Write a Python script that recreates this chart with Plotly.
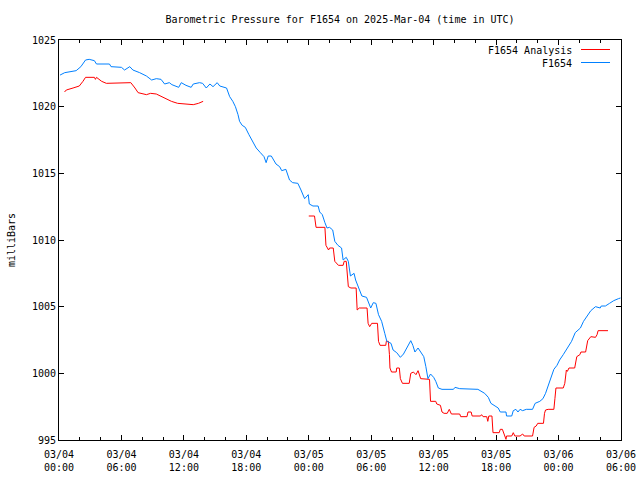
import pandas as pd
import plotly.graph_objects as go

# ---- data (hours after 2025-03-04 00:00 UTC, pressure in mb) ----
base_time = "2025-03-04 00:00"

station_hours = [0.1, 0.55, 1.65, 2.1, 2.55, 2.9, 3.4, 3.6, 4.85, 5.0, 6.0, 6.3, 6.8, 7.1, 7.75,
                 8.4, 8.9, 9.35, 9.8, 10.15, 10.6, 10.85, 11.5, 11.75, 12.2, 12.7, 12.9, 13.5,
                 13.8, 14.15, 14.5, 14.8, 15.2, 15.45, 16.1, 16.4, 16.7, 16.95, 17.2, 17.35,
                 17.6, 17.9, 18.25, 18.6, 18.95, 19.35, 19.7, 19.9, 20.1, 20.4, 20.85, 21.2,
                 21.4, 21.8, 22.15, 22.45, 22.95, 23.25, 23.6, 23.95, 24.05, 24.4, 24.9, 25.05,
                 25.3, 25.55, 25.75, 26.0, 26.3, 26.5, 26.8, 27.15, 27.3, 27.6, 27.8, 28.0,
                 28.35, 28.5, 28.8, 29.1, 29.55, 29.95, 30.2, 30.45, 30.7, 31.0, 31.3, 31.5,
                 31.9, 32.1, 32.45, 32.8, 33.1, 33.45, 33.8, 34.0, 34.2, 34.5, 34.75, 35.05,
                 35.25, 35.45, 35.7, 36.0, 36.2, 36.45, 36.8, 37.9, 38.05, 38.5, 40.25, 40.5,
                 40.9, 41.25, 41.5, 41.9, 42.2, 42.4, 42.95, 43.0, 43.5, 43.65, 43.9, 44.1,
                 44.3, 44.55, 44.9, 45.5, 45.75, 46.2, 46.5, 46.75, 47.0, 47.2, 47.4, 47.55,
                 47.85, 48.1, 48.45, 48.85, 49.25, 49.6, 50.1, 50.4, 50.8, 51.1, 51.55, 52.0,
                 52.1, 52.5, 52.9, 53.3, 53.75, 53.95]
station_mb = [1022.37, 1022.55, 1022.7, 1023.0, 1023.5, 1023.55, 1023.45, 1023.2, 1023.2, 1023.0,
              1022.95, 1022.75, 1023.0, 1022.75, 1022.55, 1022.3, 1022.0, 1022.1, 1022.05,
              1021.7, 1021.8, 1021.65, 1021.45, 1021.8, 1021.6, 1021.45, 1021.7, 1021.8,
              1021.75, 1021.4, 1021.7, 1021.5, 1021.8, 1021.55, 1021.4, 1020.75, 1020.4,
              1020.0, 1019.4, 1018.9, 1018.6, 1018.45, 1017.9, 1017.4, 1016.9, 1016.55,
              1016.25, 1015.8, 1016.3, 1016.3, 1015.7, 1015.5, 1015.2, 1015.3, 1014.5,
              1014.3, 1014.25, 1013.75, 1013.1, 1013.4, 1012.7, 1012.55, 1012.55, 1012.1,
              1011.9, 1011.3, 1010.9, 1010.95, 1010.75, 1009.9, 1009.6, 1009.4, 1008.5,
              1008.7, 1008.4, 1007.3, 1007.5, 1007.0, 1006.4, 1005.8, 1005.7, 1004.9,
              1005.3, 1005.25, 1004.4, 1003.9, 1003.0, 1002.4, 1002.25, 1001.75, 1001.55,
              1001.2, 1001.45, 1002.0, 1002.45, 1002.1, 1001.6, 1001.9, 1001.6, 1001.25,
              1000.5, 999.6, 999.95, 999.7, 999.4, 998.9, 998.8, 998.8, 998.95, 998.85,
              998.8, 998.7, 998.5, 998.2, 997.75, 997.55, 997.4, 997.1, 997.1, 996.8, 996.8,
              997.2, 997.3, 997.1, 997.3, 997.2, 997.3, 997.3, 997.75, 997.9, 998.1, 998.5,
              999.1, 999.5, 999.9, 1000.3, 1000.6, 1001.0, 1001.4, 1001.9, 1002.4, 1003.05,
              1003.4, 1003.9, 1004.4, 1004.7, 1005.0, 1004.9, 1005.05, 1005.05, 1005.25,
              1005.45, 1005.6, 1005.65]

analysis1_hours = [0.53, 0.7, 1.35, 1.95, 2.3, 2.55, 3.4, 3.5, 3.6, 4.1, 4.55, 5.1, 5.2, 6.9,
                   7.3, 7.6, 8.4, 8.8, 9.35, 10.0, 10.8, 11.4, 12.7, 12.9, 13.4, 13.85]
analysis1_mb = [1021.1, 1021.25, 1021.4, 1021.55, 1021.9, 1022.2, 1022.2, 1022.05, 1022.2,
                1021.9, 1021.75, 1021.75, 1021.8, 1021.8, 1021.4, 1021.05, 1020.9, 1021.0,
                1020.95, 1020.7, 1020.4, 1020.25, 1020.2, 1020.15, 1020.25, 1020.4]

analysis2_hours = [24.0, 24.55, 24.7, 25.55, 25.65, 25.9, 26.0, 26.35, 26.5, 26.85, 27.3, 27.4,
                   27.6, 27.7, 27.8, 28.05, 28.55, 28.65, 28.85, 29.6, 29.7, 29.85, 30.05, 30.6,
                   30.7, 30.85, 31.4, 31.45, 31.65, 31.75, 31.8, 31.95, 32.4, 32.45, 32.7, 32.8,
                   33.0, 33.65, 33.8, 34.05, 34.3, 34.5, 34.75, 35.6, 35.7, 36.2, 36.3, 36.65,
                   36.8, 37.0, 37.3, 37.5, 37.6, 37.7, 38.5, 38.6, 39.2, 39.3, 39.6, 39.7, 40.5,
                   40.6, 40.75, 41.1, 41.2, 41.3, 41.6, 41.7, 42.3, 42.4, 42.6, 42.75, 42.95,
                   43.0, 43.5, 43.65, 43.8, 44.3, 44.55, 44.7, 45.5, 45.65, 45.85, 46.0, 46.55,
                   46.65, 46.75, 47.0, 47.55, 47.65, 47.75, 48.45, 48.6, 48.75, 48.85, 49.0,
                   49.55, 49.75, 50.05, 50.15, 50.6, 50.8, 51.1, 51.55, 51.7, 51.8, 52.75]
analysis2_mb = [1011.8, 1011.8, 1010.95, 1010.95, 1009.6, 1009.25, 1009.4, 1009.4, 1008.4,
                1008.1, 1008.1, 1008.4, 1008.4, 1007.4, 1006.5, 1006.4, 1006.4, 1004.75,
                1004.9, 1004.9, 1003.75, 1003.5, 1003.75, 1003.75, 1002.4, 1002.1, 1002.1,
                1002.4, 1002.4, 1001.4, 1000.4, 1000.1, 1000.1, 1000.4, 1000.4, 999.6, 999.25,
                999.25, 1000.0, 1000.1, 999.9, 1000.2, 999.6, 999.55, 997.9, 997.9, 997.7,
                997.6, 997.1, 997.0, 997.0, 997.3, 997.1, 996.95, 996.95, 996.75, 996.75,
                997.1, 997.1, 996.8, 996.8, 996.9, 996.75, 996.75, 996.4, 996.8, 996.8,
                995.55, 995.55, 995.8, 995.8, 995.4, 995.05, 995.3, 995.3, 995.55, 995.3,
                995.3, 995.45, 995.3, 995.3, 995.95, 996.05, 996.25, 996.25, 997.0, 997.25,
                997.3, 997.3, 998.1, 998.9, 998.9, 999.25, 1000.25, 1000.15, 1000.4, 1000.4,
                1001.25, 1001.4, 1001.6, 1001.6, 1002.45, 1002.75, 1002.7, 1002.9, 1003.2,
                1003.2]

tick_hours = [0, 6, 12, 18, 24, 30, 36, 42, 48, 54]
tick_labels = ["03/04<br>00:00", "03/04<br>06:00", "03/04<br>12:00", "03/04<br>18:00",
               "03/05<br>00:00", "03/05<br>06:00", "03/05<br>12:00", "03/05<br>18:00",
               "03/06<br>00:00", "03/06<br>06:00"]
minor_hours = [h for h in range(0, 55, 2) if h % 6 != 0]
y_ticks = [995, 1000, 1005, 1010, 1015, 1020, 1025]

# ---- build ----
t0 = pd.Timestamp(base_time)
def to_time(hours):
    return [t0 + pd.Timedelta(hours=h) for h in hours]

RED = "#ff0000"
BLUE = "#0080ff"
FONT = "DejaVu Sans Mono"

fig = go.Figure()
fig.add_trace(go.Scatter(
    x=to_time(analysis1_hours) + [None] + to_time(analysis2_hours),
    y=analysis1_mb + [None] + analysis2_mb,
    mode="lines", name="F1654 Analysis", line=dict(color=RED, width=1),
    connectgaps=False, showlegend=False))
fig.add_trace(go.Scatter(
    x=to_time(station_hours), y=station_mb,
    mode="lines", name="F1654", line=dict(color=BLUE, width=1), showlegend=False))

W, H = 640, 480
L, R, T, B = 59, 19, 40, 40
pw, ph = W - L - R, H - T - B
def px(xp):
    return (xp - L) / pw
def py(yp):
    return 1 - (yp - T) / ph

# gnuplot-style legend: text then line sample
legend_items = [("F1654 Analysis", RED, 50), ("F1654", BLUE, 63)]
for name, color, ypix in legend_items:
    fig.add_annotation(x=px(574), y=py(ypix), xref="paper", yref="paper", text=name,
                       showarrow=False, xanchor="right", yanchor="middle",
                       font=dict(family=FONT, size=10, color="black"))
    fig.add_shape(type="line", xref="paper", yref="paper", x0=px(581), x1=px(610),
                  y0=py(ypix - 0.5), y1=py(ypix - 0.5), line=dict(color=color, width=1))

fig.update_layout(
    width=W, height=H,
    margin=dict(l=L, r=R, t=T, b=B, autoexpand=False),
    paper_bgcolor="white", plot_bgcolor="white",
    font=dict(family=FONT, size=10, color="black"),
    title=dict(text="Barometric Pressure for F1654 on 2025-Mar-04 (time in UTC)",
               xref="paper", x=0.5, xanchor="center", y=1 - 19 / H, yanchor="middle",
               font=dict(family=FONT, size=10, color="black")),
    showlegend=False,
)
fig.update_xaxes(
    type="date", range=[t0, t0 + pd.Timedelta(hours=54)], automargin=False,
    showline=True, linecolor="black", linewidth=1, mirror="allticks",
    ticks="inside", ticklen=5, tickcolor="black", tickwidth=1,
    tickmode="array", tickvals=to_time(tick_hours), ticktext=tick_labels,
    showgrid=False, zeroline=False, ticklabelstandoff=5,
    minor=dict(ticks="inside", ticklen=3, tickcolor="black", tickwidth=1,
               tickmode="array", tickvals=to_time(minor_hours), showgrid=False),
    tickfont=dict(family=FONT, size=10, color="black"),
)
fig.update_yaxes(
    range=[995, 1025], tickmode="array", tickvals=y_ticks, automargin=False,
    showline=True, linecolor="black", linewidth=1, mirror="allticks",
    ticks="inside", ticklen=5, tickcolor="black", tickwidth=1,
    showgrid=False, zeroline=False,
    tickfont=dict(family=FONT, size=10, color="black"),
    title=dict(text="milliBars", font=dict(family=FONT, size=10, color="black"), standoff=14),
)

fig.write_html("out.html")
